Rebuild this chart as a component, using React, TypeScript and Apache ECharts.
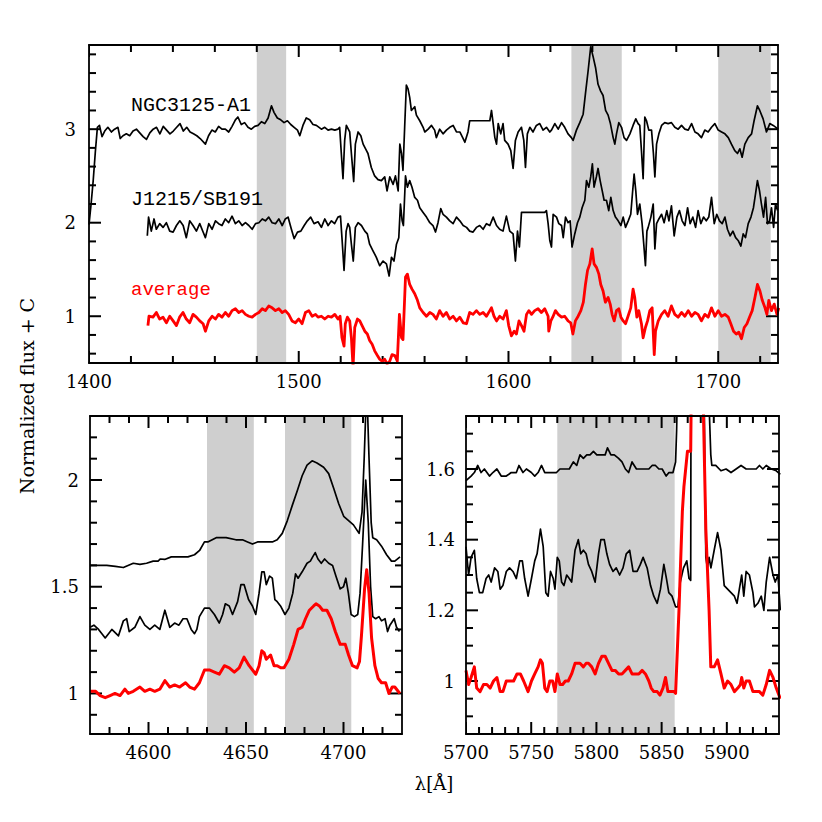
import React, { useEffect, useRef } from "react";
import * as echarts from "echarts";

// ---------- Top panel (UV) : [wavelength, normalized flux + C] ----------
const topNgc: number[][] = [
  [1400,1.98],[1401,2.2],[1402,2.45],[1403,2.75],[1404,3.02],[1405,3.04],[1406.2,2.92],[1407.5,2.98],[1409,3.02],[1410.7,2.97],
  [1412.2,3.0],[1413.8,3.02],[1414.9,2.9],[1416.2,2.93],[1417.8,2.95],[1419.4,2.93],[1421,2.98],[1422.6,3.0],[1424.2,2.96],[1425.8,2.92],
  [1427.4,2.89],[1429,2.96],[1430.6,3.0],[1432.2,3.02],[1433.8,2.95],[1435.4,3.03],[1437,2.99],[1438.6,2.95],[1440.2,2.98],[1441.8,3.02],
  [1443.4,3.06],[1445,2.98],[1446.6,3.02],[1448.2,2.97],[1449.8,2.95],[1451.4,2.93],[1453,2.9],[1455.5,2.84],[1457,2.93],[1458.6,2.99],
  [1460.2,2.97],[1461.8,3.03],[1463.4,3.0],[1465,3.0],[1466.6,2.97],[1468.2,3.03],[1469.8,3.1],[1471,3.13],[1472.6,3.05],[1474.2,3.07],
  [1475.8,3.02],[1477.4,3.0],[1479,3.03],[1480.6,3.04],[1482.2,3.08],[1483.8,3.06],[1485.4,3.12],[1487,3.25],[1488.2,3.18],[1489.8,3.12],
  [1491.4,3.1],[1493,3.07],[1494.6,3.09],[1496.2,3.05],[1497.8,3.02],[1499.4,2.99],[1500.5,2.93],[1502,3.04],[1503.6,3.12],[1505.2,3.1],
  [1506.8,3.05],[1508.4,3.04],[1510.8,3.0],[1512.4,3.02],[1514,2.99],[1515.6,3.0],[1517.2,2.99],[1518.7,3.0],[1519.5,3.02],[1520.3,2.74],
  [1521.1,2.47],[1521.9,2.88],[1522.7,3.04],[1524.3,2.97],[1525.1,2.74],[1526.2,2.44],[1527,2.84],[1528.3,2.97],[1529.6,2.93],[1530.7,2.84],
  [1532.3,2.77],[1533,2.74],[1534.6,2.59],[1536.2,2.5],[1537.8,2.46],[1539.4,2.45],[1541,2.49],[1542.1,2.34],[1543.4,2.49],[1545,2.41],
  [1546.1,2.5],[1547.4,2.34],[1548.2,2.84],[1549,2.74],[1549.7,2.56],[1550.5,3.02],[1551.3,3.47],[1552.1,3.43],[1552.9,3.34],[1553.7,3.2],
  [1555.3,3.24],[1556.1,3.15],[1557.7,3.09],[1559.3,3.02],[1560.1,2.97],[1561.7,3.0],[1563.3,3.04],[1564.8,2.99],[1565.6,2.91],[1567.2,3.0],
  [1568.8,2.95],[1570.4,2.99],[1572,3.02],[1573.6,3.04],[1575.2,2.97],[1576.8,2.97],[1578.4,2.9],[1579.2,2.86],[1580.7,2.97],[1581.5,3.09],
  [1591.1,3.09],[1591.9,3.2],[1592.7,3.06],[1593.5,2.91],[1594.3,2.84],[1595.1,3.06],[1596.3,2.95],[1597.4,3.06],[1598.2,2.88],[1599.8,2.84],
  [1601.1,2.77],[1602.2,2.58],[1603.3,2.88],[1604.6,2.97],[1606.2,3.02],[1607.3,2.88],[1608.1,2.59],[1609,2.95],[1610.2,3.02],[1611.7,2.97],
  [1613.3,3.04],[1614.9,3.06],[1616.5,2.99],[1618.1,3.02],[1619.7,2.97],[1620.5,2.99],[1622.1,3.06],[1623.7,3.0],[1625.3,3.07],[1626.8,3.02],
  [1628.4,2.95],[1630,2.91],[1630.8,2.88],[1632.4,2.99],[1634,3.07],[1635.6,3.16],[1636.7,3.38],[1638,3.63],[1639.2,3.88],[1640.4,3.77],
  [1641.5,3.66],[1642.7,3.48],[1643.9,3.41],[1645.1,3.36],[1646.3,3.2],[1647.5,3.15],[1648.6,3.06],[1649.9,2.91],[1650.7,2.84],[1651.5,2.95],
  [1652.6,3.07],[1653.9,3.02],[1655.1,2.91],[1656.3,2.88],[1657.9,2.95],[1659.4,3.04],[1660.7,3.11],[1661.8,3.06],[1662.6,3.04],[1663.4,2.77],
  [1664.2,2.47],[1665,3.13],[1665.8,3.09],[1666.9,2.99],[1668.2,2.99],[1669.1,2.74],[1669.8,2.49],[1670.6,2.84],[1671.7,2.95],[1673,3.04],
  [1674.5,3.07],[1676.1,3.06],[1677.7,3.07],[1679.3,3.02],[1680.9,3.0],[1682.5,3.04],[1684.1,3.0],[1685.7,2.99],[1687.3,3.06],[1688.9,2.97],
  [1690.4,2.95],[1692,2.91],[1693.6,2.99],[1695.2,2.97],[1696.8,3.02],[1698.4,3.06],[1700,2.99],[1701.6,2.97],[1703.2,2.95],[1704.8,2.91],
  [1706.3,2.84],[1707.9,2.77],[1709.2,2.74],[1710.3,2.79],[1711.4,2.7],[1712.7,2.84],[1714.3,2.91],[1715.9,2.95],[1717.1,3.09],[1718.7,3.25],
  [1719.8,3.2],[1721.4,3.11],[1723,2.97],[1724.6,3.06],[1726.2,3.04],[1728.6,3.0],
];

const topJ1215: number[][] = [
  [1427.8,1.86],[1428.4,2.06],[1429.7,1.91],[1431,2.04],[1432.1,1.93],[1433.7,1.99],[1435.3,1.95],[1436.9,2.0],[1438.5,1.91],[1440.1,1.9],
  [1441.7,1.97],[1443.3,2.02],[1444.9,1.97],[1446.4,1.84],[1448,2.02],[1449.6,1.97],[1451.2,1.91],[1452.8,1.99],[1454.4,1.9],[1455.5,1.84],
  [1457.1,1.99],[1458.7,1.93],[1460.3,2.02],[1461.8,1.99],[1463.4,1.97],[1465,2.04],[1466.6,2.0],[1468.2,2.07],[1469.8,1.99],[1471.4,2.02],
  [1473,1.97],[1474.6,2.0],[1476.2,1.97],[1477.8,1.93],[1479.4,1.99],[1481,2.0],[1482.6,2.04],[1484.1,2.02],[1485.7,2.06],[1487.3,2.0],
  [1488.9,1.99],[1490.5,2.04],[1492.1,1.97],[1493.6,2.04],[1494.9,2.06],[1496.5,1.93],[1497.8,1.83],[1499.4,1.9],[1501,1.91],[1502.6,1.97],
  [1504.1,2.02],[1505.7,2.06],[1507.3,1.99],[1509.2,2.01],[1510.8,1.95],[1512.4,2.04],[1514,1.97],[1515.6,2.02],[1517.1,1.99],[1518.7,2.06],
  [1519.9,2.07],[1520.6,1.84],[1521.6,1.49],[1522.6,1.91],[1523.5,1.99],[1524.3,1.95],[1525.1,1.77],[1526,1.59],[1527,1.95],[1528.3,2.0],
  [1529.9,1.97],[1531.5,1.91],[1532.7,1.88],[1533.8,1.77],[1535.4,1.7],[1537,1.63],[1538.6,1.54],[1540.2,1.59],[1541.8,1.56],[1543.1,1.43],
  [1544.2,1.63],[1545.4,1.59],[1546.6,1.77],[1547.7,1.84],[1548.5,2.2],[1549.3,2.02],[1549.9,1.97],[1550.9,2.5],[1551.8,2.38],[1552.9,2.45],
  [1554,2.38],[1555.3,2.27],[1556.6,2.24],[1557.7,2.16],[1559.3,2.11],[1560.9,2.06],[1562.5,2.0],[1564,1.97],[1565.2,1.9],[1566.4,2.0],
  [1567.7,2.15],[1568.8,2.09],[1570.4,2.06],[1572,2.02],[1573.6,1.99],[1575.2,2.06],[1576.8,2.02],[1578.4,1.97],[1580,1.95],[1581.5,1.91],
  [1583.1,1.9],[1584.7,1.95],[1586.3,1.97],[1587.9,1.93],[1589.5,1.99],[1591.1,1.97],[1592.7,2.06],[1594.3,1.97],[1595.8,1.93],[1597.4,1.91],
  [1599,2.07],[1600.6,1.91],[1602.2,1.88],[1603.3,1.59],[1604.3,1.91],[1605.2,1.74],[1606.2,2.11],[1617.3,2.11],[1618.1,2.13],[1618.9,1.99],
  [1619.7,1.81],[1620.5,1.74],[1621.3,2.09],[1622.9,2.06],[1624,1.99],[1625.3,1.97],[1626.1,1.84],[1627.2,2.06],[1628.4,2.0],[1629.4,2.02],
  [1630.3,1.74],[1631.6,1.88],[1632.9,2.0],[1634,2.06],[1635.1,2.16],[1636.4,2.24],[1637.2,2.45],[1638.3,2.38],[1639.2,2.49],[1640,2.63],
  [1640.8,2.38],[1641.9,2.49],[1642.7,2.58],[1643.7,2.45],[1644.7,2.34],[1645.6,2.24],[1646.7,2.24],[1647.8,2.13],[1648.8,2.27],[1649.9,2.13],
  [1651,2.06],[1652.3,2.02],[1653.6,1.97],[1654.7,2.06],[1655.8,1.95],[1657.1,2.02],[1658.3,2.09],[1659.1,2.31],[1659.9,2.52],[1660.7,2.34],
  [1661.5,2.09],[1662.6,2.2],[1663.7,1.99],[1664.5,1.77],[1665.3,1.54],[1666,1.91],[1666.6,1.95],[1667.9,2.06],[1669,2.2],[1669.8,1.72],
  [1670.6,1.99],[1671.7,2.04],[1673,2.09],[1674.2,2.0],[1675.5,2.13],[1676.5,2.02],[1677.7,2.18],[1679,1.86],[1680.3,2.06],[1681.5,2.13],
  [1682.8,2.02],[1684.1,1.97],[1685.4,2.16],[1686.6,1.99],[1687.9,2.06],[1689.2,1.95],[1690.4,2.13],[1691.7,1.99],[1693,2.06],[1694.3,2.02],
  [1695.5,2.06],[1696.8,2.27],[1698.1,1.99],[1699.3,2.09],[1700.6,2.02],[1701.9,1.99],[1703.2,2.06],[1704.4,1.93],[1705.7,1.86],[1707,1.91],
  [1708.3,1.84],[1709.5,1.81],[1710.8,1.75],[1711.9,1.88],[1713,1.84],[1714.3,1.99],[1715.6,2.06],[1716.8,2.16],[1717.8,2.31],[1718.7,2.45],
  [1719.7,2.34],[1720.6,2.2],[1721.6,2.06],[1722.6,2.27],[1723.5,1.99],[1724.5,2.02],[1725.4,2.16],[1726.4,1.95],[1727.3,2.2],[1728.3,2.13],
];

const topAverage: number[][] = [
  [1428.1,0.9],[1428.6,1.0],[1430.5,0.99],[1432.1,1.04],[1433.7,0.97],[1435.3,0.99],[1436.9,0.93],[1438.5,1.0],[1440.1,0.95],[1441.7,0.9],
  [1443.2,0.99],[1444.8,1.04],[1446.4,0.97],[1448,0.93],[1449.6,1.02],[1451.2,0.99],[1452.8,0.95],[1454.4,0.92],[1455.5,0.84],[1457.1,0.95],
  [1458.7,1.0],[1460.3,0.97],[1461.8,1.02],[1463.4,0.99],[1465,1.04],[1466.6,1.0],[1468.2,1.06],[1469.8,1.08],[1471.4,1.04],[1473,1.06],
  [1474.6,1.02],[1476.2,1.0],[1477.8,0.99],[1479.4,1.02],[1481,1.04],[1482.6,1.08],[1484.1,1.06],[1485.7,1.11],[1487.3,1.09],[1488.9,1.06],
  [1490.5,1.08],[1492.1,1.04],[1493.6,1.06],[1495.2,1.02],[1496.8,0.95],[1498.4,0.93],[1500,0.97],[1501.6,0.92],[1503.2,1.04],[1504.8,1.06],
  [1506.4,1.0],[1508,1.02],[1509.2,0.99],[1510.8,1.0],[1512.4,0.97],[1514,1.0],[1515.6,0.99],[1517.2,1.02],[1518.7,0.97],[1519.7,1.0],
  [1520.6,0.77],[1521.6,0.68],[1522.2,0.92],[1523.2,0.99],[1524.3,0.95],[1525.1,0.77],[1525.9,0.45],[1526.7,0.88],[1528,0.97],[1529.1,0.95],
  [1530.2,0.9],[1531.5,0.84],[1532.7,0.81],[1533.8,0.74],[1535,0.7],[1536.2,0.63],[1537.5,0.58],[1538.6,0.54],[1539.7,0.52],[1541,0.54],
  [1542.1,0.49],[1543.4,0.52],[1544.5,0.59],[1545.8,0.58],[1547,0.52],[1548,1.02],[1549,0.77],[1549.7,0.75],[1550.9,1.42],[1551.8,1.45],
  [1552.9,1.34],[1554,1.29],[1555.3,1.24],[1556.6,1.17],[1557.7,1.09],[1559.3,1.04],[1560.9,1.0],[1562.5,1.04],[1564,1.02],[1565.6,0.97],
  [1567.2,1.06],[1568.8,1.0],[1570.4,1.04],[1572,0.97],[1573.6,1.0],[1575.2,0.95],[1576.8,0.99],[1578.4,0.93],[1580,0.92],[1581.5,1.04],
  [1583.1,1.02],[1584.7,1.06],[1586.3,1.02],[1587.9,1.04],[1589.5,1.0],[1591.1,1.06],[1591.9,1.09],[1593.1,1.0],[1594.3,0.95],[1595.8,1.0],
  [1597.4,0.97],[1599,1.06],[1600.1,0.9],[1601.4,0.79],[1602.7,0.84],[1603.8,0.81],[1605,0.95],[1606.2,0.9],[1607.4,0.84],[1608.6,1.02],
  [1609.7,1.06],[1611,1.02],[1612.5,1.06],[1614.1,1.08],[1615.7,1.04],[1617.3,1.08],[1618.9,1.0],[1619.2,0.84],[1620.2,0.95],[1621.1,0.99],
  [1622.4,1.06],[1623.7,1.02],[1625.3,0.99],[1626.8,1.0],[1628.4,0.95],[1629.7,0.93],[1630.7,0.81],[1631.9,0.95],[1633.2,1.0],[1634.5,1.06],
  [1635.7,1.15],[1636.7,1.34],[1637.7,1.49],[1638.8,1.56],[1639.9,1.72],[1640.8,1.56],[1642,1.52],[1643.1,1.45],[1644,1.34],[1645.1,1.27],
  [1646.2,1.15],[1647.5,1.2],[1648.5,1.13],[1649.4,1.02],[1650.4,0.95],[1651.5,1.06],[1652.6,1.08],[1653.6,0.99],[1654.7,0.95],[1655.8,0.92],
  [1657,1.0],[1658.3,1.09],[1659.4,1.29],[1660.2,1.2],[1661.2,0.99],[1662.1,1.06],[1663.4,0.92],[1664.2,0.77],[1665.3,0.88],[1666.3,0.95],
  [1667.4,1.06],[1668.5,1.09],[1669.5,0.59],[1670.1,0.84],[1671.4,0.95],[1673,1.02],[1674.5,1.06],[1676.1,1.0],[1677.7,1.11],[1679.3,1.02],
  [1680.9,0.99],[1682.5,1.04],[1684.1,1.0],[1685.7,1.06],[1687.3,1.0],[1688.9,1.04],[1690.4,1.02],[1692,0.95],[1693.6,1.02],[1695.2,0.99],
  [1696.8,1.09],[1698.4,1.0],[1700,1.06],[1701.6,1.0],[1703.2,1.02],[1704.8,0.99],[1706,0.92],[1707.3,0.84],[1708.6,0.81],[1709.8,0.83],
  [1711.1,0.76],[1712.4,0.88],[1713.7,0.92],[1714.9,0.99],[1716.2,1.06],[1717.5,1.2],[1718.7,1.34],[1719.9,1.27],[1721,1.17],[1722.3,1.09],
  [1723.2,1.02],[1724.1,1.17],[1725.4,1.06],[1726.7,1.13],[1728,1.02],[1728.9,1.09],
];

// ---------- Bottom-left panel (He II 4686 region) ----------
const heNgc: number[][] = [
  [4570,1.6],[4574.4,1.6],[4578.6,1.6],[4583,1.595],[4587.1,1.59],[4592.2,1.61],[4595.6,1.605],[4599,1.61],[4602.4,1.62],[4604.9,1.62],
  [4606.1,1.63],[4608.3,1.628],[4611.7,1.64],[4616,1.64],[4620.2,1.64],[4623.6,1.65],[4626.2,1.67],[4628.7,1.71],[4630.4,1.71],[4634.7,1.73],
  [4639.8,1.73],[4644.8,1.72],[4648.2,1.72],[4650.8,1.71],[4653.3,1.7],[4655.9,1.71],[4658.4,1.71],[4661,1.71],[4663.5,1.71],[4666,1.72],
  [4668.6,1.75],[4671.2,1.81],[4673.7,1.88],[4676.3,1.95],[4678.8,2.02],[4681.3,2.07],[4683.9,2.09],[4686.4,2.08],[4689.8,2.06],[4692.4,2.03],
  [4695,1.96],[4697.5,1.89],[4700.1,1.83],[4702.6,1.81],[4705.1,1.79],[4708,1.75],[4709.5,1.85],[4710.6,2.1],[4711.9,2.45],[4713.1,2.1],
  [4714.2,1.8],[4715,1.73],[4717,1.72],[4719.5,1.69],[4722.1,1.65],[4724.6,1.62],[4726.3,1.62],[4729,1.64],
];

const heJ1215: number[][] = [
  [4570,1.31],[4572,1.32],[4574.4,1.3],[4577.8,1.26],[4581.2,1.3],[4584.6,1.27],[4587.1,1.34],[4588.8,1.35],[4590.1,1.29],[4593,1.31],
  [4595.6,1.36],[4598.1,1.32],[4600.7,1.3],[4603.2,1.32],[4605.8,1.3],[4608.4,1.39],[4610.9,1.31],[4613.4,1.33],[4615.6,1.32],[4617.7,1.35],
  [4619.7,1.35],[4621.9,1.3],[4623.6,1.28],[4624.8,1.3],[4626.1,1.36],[4628.7,1.4],[4631.2,1.4],[4633.8,1.37],[4636.3,1.33],[4638,1.37],
  [4639.4,1.42],[4641.4,1.41],[4643.1,1.37],[4645.7,1.43],[4647.4,1.51],[4649,1.51],[4651.3,1.44],[4653.3,1.41],[4655,1.37],[4656.7,1.47],
  [4658.1,1.57],[4659.3,1.57],[4660.4,1.51],[4662.1,1.55],[4663.5,1.54],[4664.8,1.44],[4666,1.43],[4667.7,1.41],[4670,1.37],[4672,1.4],
  [4674,1.47],[4675.4,1.56],[4676.7,1.54],[4678.8,1.57],[4681.3,1.61],[4683,1.62],[4684.2,1.64],[4685.5,1.66],[4686.9,1.63],[4688.6,1.61],
  [4690.3,1.63],[4692.4,1.61],[4694.4,1.6],[4696.1,1.55],[4698.3,1.49],[4700,1.5],[4701.2,1.54],[4702.5,1.47],[4703.9,1.37],[4705.6,1.36],
  [4707.3,1.37],[4708.5,1.47],[4709.8,1.7],[4711.4,2.0],[4712.7,1.8],[4713.9,1.5],[4715,1.36],[4716.5,1.35],[4718.2,1.36],[4719.5,1.34],
  [4721.3,1.35],[4722.6,1.29],[4723.8,1.32],[4726,1.35],[4727.2,1.31],[4728.7,1.29],
];

const heAverage: number[][] = [
  [4570,1.01],[4572.9,1.01],[4575.2,0.99],[4577.8,0.98],[4580.3,0.99],[4582.8,1.0],[4585.4,0.99],[4587.9,1.02],[4589.6,1.0],[4592.2,1.01],
  [4595.6,1.03],[4598.1,1.01],[4600.7,1.02],[4603.2,1.01],[4605.8,1.02],[4608.4,1.06],[4610.9,1.03],[4613.4,1.04],[4616,1.03],[4619,1.05],
  [4621.1,1.03],[4623.6,1.02],[4626.1,1.05],[4628.7,1.11],[4631.2,1.11],[4633.8,1.1],[4636.3,1.09],[4638.9,1.13],[4641.4,1.12],[4644,1.1],
  [4646.5,1.12],[4649,1.17],[4651.6,1.13],[4655,1.09],[4656.7,1.13],[4658.1,1.2],[4659.3,1.19],[4660.4,1.16],[4662.6,1.18],[4664.4,1.13],
  [4666,1.13],[4667.8,1.12],[4669.5,1.12],[4672,1.16],[4674.5,1.23],[4676.7,1.3],[4678.8,1.31],[4680.5,1.35],[4682.5,1.39],[4684.7,1.41],
  [4685.9,1.42],[4687.6,1.41],[4689.3,1.39],[4691.5,1.39],[4693.7,1.35],[4695.8,1.29],[4698.3,1.23],[4699.5,1.23],[4700.9,1.23],[4702.6,1.18],
  [4704.6,1.13],[4707,1.12],[4708.2,1.15],[4709.2,1.27],[4710.8,1.49],[4711.9,1.58],[4713.1,1.47],[4714.4,1.26],[4716.1,1.13],[4717.8,1.07],
  [4719.5,1.05],[4721.6,1.05],[4723.3,1.0],[4725,1.03],[4726.3,1.03],[4728.9,1.0],
];

// ---------- Bottom-right panel (C IV 5808 region) ----------
const cNgc: number[][] = [
  [5700,1.567],[5703.9,1.58],[5706.4,1.59],[5709,1.61],[5711.6,1.59],[5714.1,1.6],[5718,1.58],[5720.6,1.59],[5723.7,1.6],[5727,1.58],
  [5730.9,1.58],[5734.7,1.59],[5738.6,1.59],[5740.6,1.61],[5743.7,1.59],[5746.3,1.6],[5750.1,1.59],[5752.7,1.58],[5755.3,1.59],[5757.9,1.61],
  [5760.4,1.59],[5764.3,1.59],[5766.9,1.59],[5769.4,1.59],[5772,1.6],[5775.9,1.6],[5779.2,1.6],[5782.3,1.62],[5784.9,1.61],[5787.4,1.64],
  [5790,1.63],[5792.6,1.64],[5795.1,1.64],[5797.7,1.65],[5800.3,1.64],[5804.2,1.64],[5806.7,1.64],[5808.5,1.66],[5811.1,1.64],[5813.7,1.64],
  [5817,1.63],[5819.6,1.62],[5822.2,1.6],[5824.7,1.59],[5827.3,1.62],[5830.7,1.6],[5833.7,1.6],[5836.8,1.6],[5840.2,1.6],[5842.7,1.61],
  [5845.3,1.61],[5847.9,1.6],[5850.4,1.6],[5853.5,1.58],[5855.6,1.59],[5858.7,1.59],[5860.7,1.62],[5861.5,1.71],[5862.3,1.85],[5864,2.4],
  [5870,2.8],[5880,2.8],[5885.6,2.2],[5886.4,1.78],[5887.7,1.64],[5888.5,1.61],[5891.5,1.61],[5895.5,1.595],[5899.4,1.6],[5903.2,1.59],
  [5907.1,1.6],[5910.9,1.61],[5914.8,1.6],[5918.6,1.6],[5922.5,1.6],[5925,1.61],[5927.6,1.6],[5930.2,1.61],[5934.1,1.6],[5937.9,1.595],
  [5941,1.585],
];

const cJ1215: number[][] = [
  [5700,1.38],[5702,1.3],[5703.9,1.35],[5706.4,1.37],[5708.2,1.29],[5710.3,1.25],[5712.8,1.25],[5715.4,1.29],[5717.4,1.3],[5719.3,1.28],
  [5721.9,1.32],[5724.4,1.31],[5726.2,1.26],[5728.3,1.27],[5730.9,1.31],[5733.4,1.32],[5736,1.31],[5738.6,1.29],[5741.2,1.34],[5743.2,1.34],
  [5745,1.29],[5747.6,1.24],[5750.2,1.29],[5752.7,1.34],[5754.5,1.36],[5757.1,1.43],[5759.2,1.38],[5761.2,1.25],[5763,1.24],[5764.8,1.31],
  [5766.9,1.29],[5768.2,1.26],[5770,1.35],[5771.5,1.34],[5773.3,1.28],[5775.1,1.27],[5777.2,1.3],[5779.2,1.29],[5781,1.28],[5783.6,1.37],
  [5786.1,1.4],[5788,1.36],[5790,1.37],[5792.1,1.36],[5793.9,1.33],[5796.4,1.31],[5799,1.28],[5801.6,1.36],[5803.4,1.4],[5806,1.4],
  [5808,1.36],[5810.1,1.33],[5812.7,1.31],[5815.2,1.32],[5817.8,1.3],[5820.4,1.32],[5822.9,1.36],[5825.5,1.37],[5828.1,1.31],[5831.2,1.31],
  [5833.7,1.33],[5835.8,1.35],[5838.9,1.32],[5841.5,1.27],[5844,1.24],[5846.6,1.22],[5849.1,1.26],[5851.7,1.33],[5853.7,1.29],[5855.5,1.25],
  [5858,1.24],[5860.7,1.21],[5862.5,1.21],[5864.3,1.28],[5866.8,1.32],[5869.3,1.34],[5871,1.29],[5872.3,1.285],[5872.6,2.0],[5876,2.8],
  [5880,2.8],[5882.6,1.8],[5883.9,1.35],[5885.1,1.32],[5886.4,1.35],[5887.8,1.32],[5890.3,1.37],[5892.9,1.42],[5895.5,1.37],[5898,1.27],
  [5900.6,1.26],[5903.2,1.25],[5905.8,1.24],[5907.8,1.22],[5909.6,1.26],[5911.4,1.3],[5913,1.24],[5914.8,1.31],[5917.3,1.3],[5920,1.25],
  [5921.2,1.21],[5923.8,1.22],[5926.4,1.24],[5928.4,1.2],[5930.2,1.28],[5932.8,1.35],[5935.4,1.3],[5937.1,1.28],[5939.2,1.3],[5941,1.2],
];

const cAverage: number[][] = [
  [5700,1.03],[5702,0.99],[5703.9,1.01],[5706.4,1.04],[5708.2,0.98],[5710.8,0.97],[5713.4,0.99],[5716,0.99],[5718.5,0.98],[5721.1,1.0],
  [5723.7,1.01],[5726.2,0.97],[5728.3,0.97],[5730.9,1.0],[5733.4,1.0],[5736.5,1.0],[5739.1,1.02],[5741.7,1.02],[5744.2,1.0],[5747.6,0.97],
  [5750.2,1.0],[5752.7,1.02],[5755.3,1.04],[5757.1,1.06],[5758.6,1.05],[5760.4,0.98],[5762.2,0.97],[5764.3,1.0],[5766.4,1.0],[5768.2,0.97],
  [5770,1.02],[5772.1,0.99],[5774.1,0.99],[5776.2,1.0],[5778.4,1.0],[5781,1.02],[5783.6,1.05],[5785.4,1.05],[5787.4,1.05],[5790,1.04],
  [5792.1,1.05],[5793.9,1.05],[5796.4,1.04],[5799,1.02],[5801.6,1.05],[5804.2,1.07],[5806.7,1.07],[5809.3,1.05],[5811.9,1.03],[5814.4,1.03],
  [5817,1.02],[5819.6,1.02],[5822.2,1.03],[5824.7,1.04],[5827.3,1.02],[5829.9,1.02],[5832.5,1.02],[5835,1.03],[5837.6,1.02],[5840.2,1.0],
  [5842,0.98],[5844,0.97],[5846.6,0.97],[5848.7,0.96],[5851,0.98],[5853,1.01],[5854.8,0.97],[5857.4,0.97],[5859.5,0.97],[5860.7,0.965],
  [5863.3,1.2],[5865.9,1.48],[5867.1,1.55],[5869.8,1.65],[5872.3,1.65],[5873.2,2.0],[5876,2.8],[5879.5,2.8],[5881.0,1.95],[5883.9,1.43],
  [5886.4,1.2],[5887.7,1.04],[5890.3,1.04],[5892.9,1.06],[5895.5,1.02],[5898,0.98],[5900.6,1.0],[5903.2,0.99],[5905.8,0.97],[5908.4,0.98],
  [5910.4,0.99],[5911.4,1.01],[5913,0.98],[5914.8,1.0],[5917.3,1.0],[5920,0.97],[5922.5,0.97],[5925,0.97],[5927.6,0.96],[5930.2,0.99],
  [5932.8,1.03],[5935.4,1.01],[5937.9,0.98],[5941,0.95],
];

// ---------- Shaded wavelength windows ----------
const topBands: number[][] = [[1480, 1494], [1630, 1654], [1700, 1725]];
const heBands: number[][] = [[4630, 4654], [4670, 4704]];
const cBands: number[][] = [[5770, 5860]];

// ---------- Axis ranges and ticks ----------
const topXRange = [1400, 1728.5];
const topYRange = [0.5, 3.9];
const topXMajor = [1400, 1500, 1600, 1700];
const topXMinor = [1420, 1440, 1460, 1480, 1520, 1540, 1560, 1580, 1620, 1640, 1660, 1680, 1720];
const topYMajor = [1, 2, 3];
const topYMinor = [0.6, 0.8, 1.2, 1.4, 1.6, 1.8, 2.2, 2.4, 2.6, 2.8, 3.2, 3.4, 3.6, 3.8];

const heXRange = [4570, 4730];
const heYRange = [0.81, 2.3];
const heXMajor = [4600, 4650, 4700];
const heXMinor = [4580, 4590, 4610, 4620, 4630, 4640, 4660, 4670, 4680, 4690, 4710, 4720];
const heYMajor = [1, 1.5, 2];
const heYMinor = [0.9, 1.1, 1.2, 1.3, 1.4, 1.6, 1.7, 1.8, 1.9, 2.1, 2.2];

const cXRange = [5700, 5940];
const cYRange = [0.85, 1.75];
const cXMajor = [5700, 5750, 5800, 5850, 5900];
const cXMinor = [5710, 5720, 5730, 5740, 5760, 5770, 5780, 5790, 5810, 5820, 5830, 5840, 5860, 5870, 5880, 5890, 5910, 5920, 5930];
const cYMajor = [1, 1.2, 1.4, 1.6];
const cYMinor = [0.9, 0.95, 1.05, 1.1, 1.15, 1.25, 1.3, 1.35, 1.45, 1.5, 1.55, 1.65, 1.7];

const labelNgc = "NGC3125-A1";
const labelJ = "J1215/SB191";
const labelAvg = "average";
const yTitle = "Normalized flux + C";
const xTitle = "λ[Å]";

const INK = "#000000";
const RED = "#ff0000";
const BAND = "#cfcfcf";
const NUM_FONT = "DejaVu Serif";
const MAJOR_LEN = 12; // px
const MINOR_LEN = 7; // px
const TICK_W = 2; // px

// Panel rectangles (layout only)
const GRIDS = [
  { left: 89, top: 45, width: 689, height: 318 },
  { left: 90, top: 416, width: 312, height: 318 },
  { left: 466, top: 416, width: 313, height: 318 },
];

function frameAxes(dim: "x" | "y", gridIndex: number, range: number[], major: number[], labelMargin: number) {
  const sides = dim === "x" ? ["bottom", "top"] : ["left", "right"];
  return sides.map((pos, i) => ({
    type: "value",
    gridIndex,
    min: range[0],
    max: range[1],
    position: pos,
    z: 10,
    splitLine: { show: false },
    axisLine: { show: true, onZero: false, lineStyle: { color: INK, width: 1.8 } },
    axisTick: { show: false },
    axisLabel:
      i === 0
        ? {
            show: true,
            customValues: major,
            margin: labelMargin,
            fontFamily: NUM_FONT,
            fontSize: 18,
            color: INK,
            formatter: (v: number) => String(v),
          }
        : { show: false },
  }));
}

// Inward tick marks as thin black mark-area rectangles (the same mechanism that draws
// the grey windows), given in data coordinates of the panel's axes.
function tickAreas(
  g: number,
  xRange: number[],
  yRange: number[],
  xMajor: number[],
  xMinor: number[],
  yMajor: number[],
  yMinor: number[]
) {
  const { width, height } = GRIDS[g];
  const px = (xRange[1] - xRange[0]) / width;
  const py = (yRange[1] - yRange[0]) / height;
  const hw = TICK_W / 2;
  const out: any[] = [];
  const rect = (x1: number, y1: number, x2: number, y2: number) =>
    out.push([
      { coord: [x1, y1], itemStyle: { color: INK, opacity: 1 } },
      { coord: [x2, y2] },
    ]);
  const xt = (vals: number[], len: number) =>
    vals.forEach((v) => {
      rect(v - hw * px, yRange[0], v + hw * px, yRange[0] + len * py);
      rect(v - hw * px, yRange[1] - len * py, v + hw * px, yRange[1]);
    });
  const yt = (vals: number[], len: number) =>
    vals.forEach((v) => {
      rect(xRange[0], v - hw * py, xRange[0] + len * px, v + hw * py);
      rect(xRange[1] - len * px, v - hw * py, xRange[1], v + hw * py);
    });
  xt(xMajor, MAJOR_LEN);
  xt(xMinor, MINOR_LEN);
  yt(yMajor, MAJOR_LEN);
  yt(yMinor, MINOR_LEN);
  return out;
}

function spectrum(data: number[][], g: number, color: string, width: number, bands?: number[][], ticks?: any[]) {
  const s: any = {
    type: "line",
    xAxisIndex: g * 2,
    yAxisIndex: g * 2,
    data,
    showSymbol: false,
    symbol: "none",
    clip: true,
    lineStyle: { color, width, join: "round" },
    itemStyle: { color },
    z: 3,
  };
  if (bands) {
    s.markArea = {
      silent: true,
      label: { show: false },
      itemStyle: { color: BAND, opacity: 1 },
      data: [
        ...bands.map((b) => [{ xAxis: b[0] }, { xAxis: b[1] }]),
        ...(ticks || []),
      ],
    };
  }
  return s;
}

export default function App() {
  const ref = useRef<HTMLDivElement>(null);
  useEffect(() => {
    if (!ref.current) return;
    const chart = echarts.init(ref.current, undefined, { renderer: "svg" });
    const textStyle = (fill: string, family: string, size: number, align: string) => ({
      fill,
      fontFamily: family,
      fontSize: size,
      align,
      verticalAlign: "middle",
    });
    const topTicks = tickAreas(0, topXRange, topYRange, topXMajor, topXMinor, topYMajor, topYMinor);
    const heTicks = tickAreas(1, heXRange, heYRange, heXMajor, heXMinor, heYMajor, heYMinor);
    const cTicks = tickAreas(2, cXRange, cYRange, cXMajor, cXMinor, cYMajor, cYMinor);
    const option: any = {
      animation: false,
      backgroundColor: "#ffffff",
      grid: GRIDS.map((g) => ({ ...g, containLabel: false, outerBoundsMode: "none" })),
      xAxis: [
        ...frameAxes("x", 0, topXRange, topXMajor, 9),
        ...frameAxes("x", 1, heXRange, heXMajor, 9),
        ...frameAxes("x", 2, cXRange, cXMajor, 9),
      ],
      yAxis: [
        ...frameAxes("y", 0, topYRange, topYMajor, 13),
        ...frameAxes("y", 1, heYRange, heYMajor, 11),
        ...frameAxes("y", 2, cYRange, cYMajor, 11),
      ],
      series: [
        spectrum(topNgc, 0, INK, 1.7, topBands, topTicks),
        spectrum(topJ1215, 0, INK, 1.7),
        spectrum(topAverage, 0, RED, 2.8),
        spectrum(heNgc, 1, INK, 1.7, heBands, heTicks),
        spectrum(heJ1215, 1, INK, 1.7),
        spectrum(heAverage, 1, RED, 3),
        spectrum(cNgc, 2, INK, 1.7, cBands, cTicks),
        spectrum(cJ1215, 2, INK, 1.7),
        spectrum(cAverage, 2, RED, 3),
      ],
      graphic: [
        { type: "text", x: 131, y: 105, z: 20, style: { text: labelNgc, ...textStyle(INK, "Liberation Mono", 20, "left") } },
        { type: "text", x: 131, y: 199, z: 20, style: { text: labelJ, ...textStyle(INK, "Liberation Mono", 20, "left") } },
        { type: "text", x: 131, y: 290, z: 20, style: { text: labelAvg, ...textStyle(RED, "Liberation Mono", 19, "left") } },
        { type: "text", x: 27, y: 396, rotation: Math.PI / 2, z: 20, style: { text: yTitle, ...textStyle(INK, "DejaVu Serif", 19, "center") } },
        { type: "text", x: 434, y: 783, z: 20, style: { text: xTitle, ...textStyle(INK, "DejaVu Serif", 18, "center") } },
      ],
    };
    chart.setOption(option);
    return () => chart.dispose();
  }, []);
  return (
    <div
      ref={ref}
      style={{ position: "fixed", left: 0, top: 0, width: 822, height: 822, background: "#ffffff" }}
    />
  );
}
